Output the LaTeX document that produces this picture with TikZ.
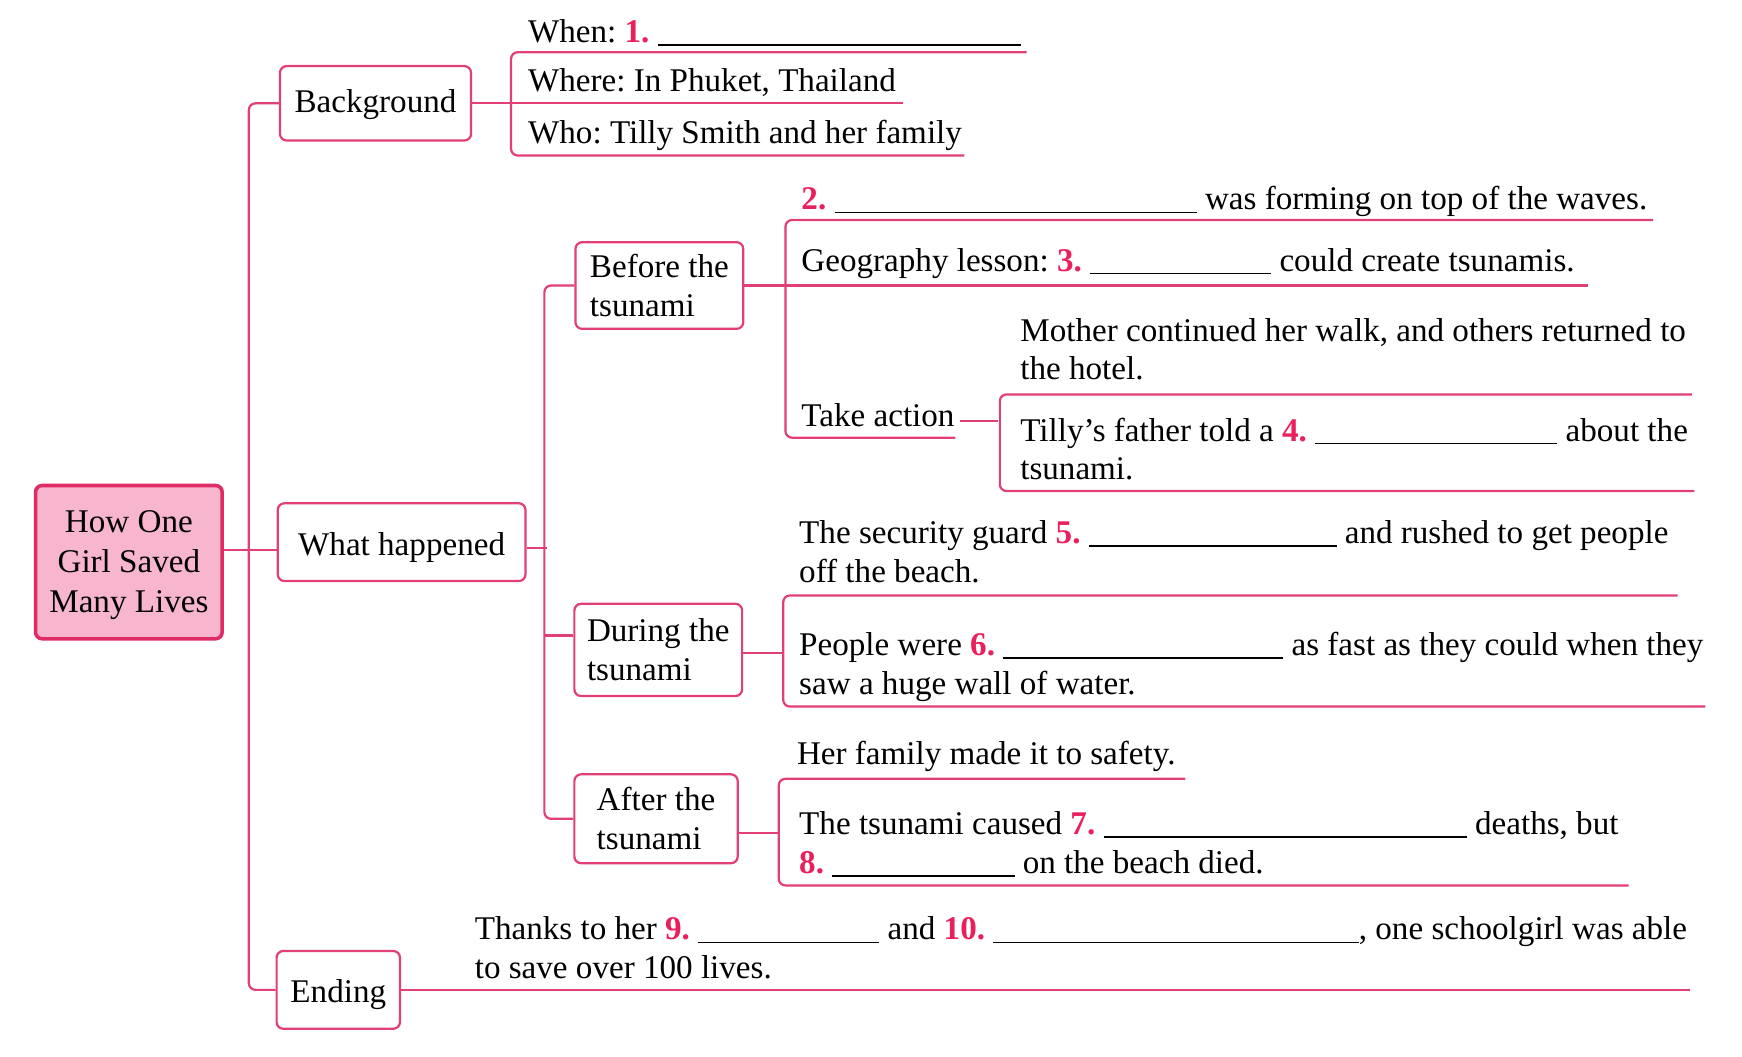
\documentclass[tikz,border=0pt]{standalone}
\usepackage{fontspec}
\setmainfont{Liberation Serif}
\usepackage{tikz}
\frenchspacing
\definecolor{linepink}{RGB}{226,62,120}
\definecolor{numred}{RGB}{234,32,92}
\definecolor{rootfill}{RGB}{247,182,206}
\definecolor{rootline}{RGB}{224,44,100}
\tikzstyle{link}=[draw=linepink,line width=1pt]
\tikzstyle{box}=[draw=linepink,line width=1pt,rounded corners=3pt,inner sep=0pt,align=center,font=\fontsize{14.9}{17.5}\selectfont]
\tikzstyle{rootbox}=[box,draw=rootline,fill=rootfill,line width=1.6pt,font=\fontsize{14.9}{18}\selectfont]
\tikzstyle{txt}=[anchor=base west,inner sep=0pt,align=left,font=\fontsize{14.9}{17.5}\selectfont]
\newcommand{\nb}[1]{\textcolor{numred}{\textbf{#1}}}
\newcommand{\fillin}[1]{\rule[-1.5pt]{#1}{0.6pt}}

\begin{document}
\begin{tikzpicture}[x=0.5pt,y=-0.5pt]
\useasboundingbox (0,0) rectangle (1568,951);
\node[rootbox,minimum width=84pt,minimum height=69pt,text height=49pt,text depth=3.3pt] (root) at (116,506) {How One\\Girl Saved\\Many Lives};
\node[box,minimum width=86pt,minimum height=33.5pt,text height=11.5pt,text depth=3.3pt] (bg) at (338,93) {Background};
\node[box,minimum width=111.5pt,minimum height=35pt,text height=15pt,text depth=3.3pt] (what) at (361.5,488) {What happened};
\node[box,align=left,minimum width=75.5pt,minimum height=39pt] (before) at (593.5,257) {Before the\\tsunami};
\node[box,align=left,minimum width=75.5pt,minimum height=41.5pt] (during) at (592.5,585) {During the\\tsunami};
\node[box,align=left,minimum width=73.5pt,minimum height=40pt] (after) at (590.5,737) {After the\\tsunami};
\node[box,minimum width=55.5pt,minimum height=35pt,text height=15pt,text depth=3.3pt] (ending) at (304.5,891) {Ending};

\node[txt] (when) at (475,38) {When: \nb{1.} \fillin{163.5pt}};
\node[txt] (where) at (475,82) {Where: In Phuket, Thailand};
\node[txt] (who) at (475,129) {Who: Tilly Smith and her family};
\node[txt] (wave) at (721,189) {\nb{2.} \fillin{163pt} was forming on top of the waves.};
\node[txt] (geo) at (721,244) {Geography lesson: \nb{3.} \fillin{81.5pt} could create tsunamis.};
\node[txt] (mother) at (918,342) {Mother continued her walk, and others returned to\\the hotel.};
\node[txt] (take) at (721,384) {Take action};
\node[txt] (father) at (918,432) {Tilly’s father told a \nb{4.} \fillin{109pt} about the\\tsunami.};
\node[txt] (guard) at (719,524) {The security guard \nb{5.} \fillin{111.5pt} and rushed to get people\\off the beach.};
\node[txt] (people) at (719,625) {People were \nb{6.} \fillin{126pt} as fast as they could when they\\saw a huge wall of water.};
\node[txt] (safe) at (717,688) {Her family made it to safety.};
\node[txt] (caused) at (719,786) {The tsunami caused \nb{7.} \fillin{163.5pt} deaths, but\\\nb{8.} \fillin{82pt} on the beach died.};
\node[txt] (thanks) at (427,881) {Thanks to her \nb{9.} \fillin{81.5pt} and \nb{10.} \fillin{164.5pt}, one schoolgirl was able\\to save over 100 lives.};

\draw[link] ([yshift=5.5pt]root.east) -- ([yshift=-3.5pt]what.west);
\draw[link,rounded corners=3pt] (bg.west) -- ++(-27,0) |- (ending.west);
\draw[link,rounded corners=3pt] (before.west) -- ++(-27,0) |- (after.west);
\draw[link] ([yshift=-2.5pt]what.east) -- ++(18,0);
\draw[link] ([yshift=6.5pt]during.west) -- ++(-26,0);

\draw[link,rounded corners=3pt] (924,47) -- (460,47) -- (460,140) -- (868,140);
\draw[link] (bg.east) -- ++(388,0);

\draw[link,rounded corners=3pt] (1488,198) -- (707,198) -- (707,394) -- (860,394);
\draw[link] (before.east) -- ++(759,0);
\draw[link] ([xshift=2.5pt,yshift=2.5pt]take.base east) -- ++(34,0);
\draw[link,rounded corners=3pt] (1523,355) -- (900,355) -- (900,442) -- (1525,442);

\draw[link,rounded corners=3pt] (1510,536) -- (705,536) -- (705,636) -- (1535,636);
\draw[link] ([yshift=-1.5pt]during.east) -- ++(37,0);

\draw[link,rounded corners=3pt] (1067,701) -- (701,701) -- (701,797) -- (1466,797);
\draw[link] ([yshift=-6.5pt]after.east) -- ++(37,0);

\draw[link] (ending.east) -- ++(1160,0);
\end{tikzpicture}
\end{document}
